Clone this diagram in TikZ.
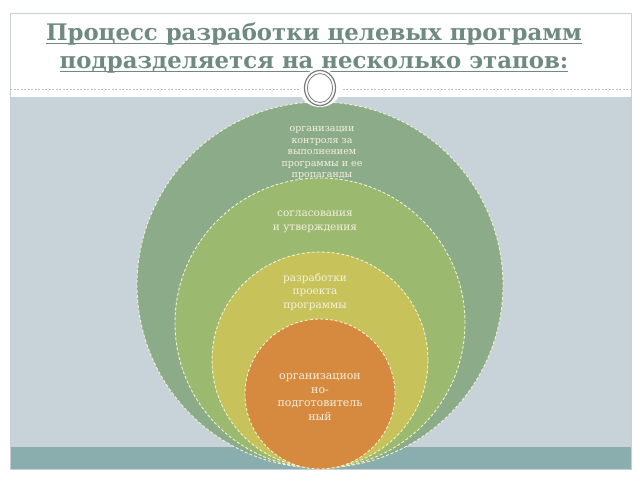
\documentclass[tikz,border=0pt]{standalone}
\usepackage{fontspec}
\setmainfont{DejaVu Serif}
\definecolor{bggray}{HTML}{C8D3D9}
\definecolor{teal}{HTML}{8AADAE}
\definecolor{framegray}{HTML}{C9CFD2}
\definecolor{titlec}{HTML}{6F8A80}
\definecolor{c1}{HTML}{8CAB88}
\definecolor{c2}{HTML}{9BBA6F}
\definecolor{c3}{HTML}{C7C35A}
\definecolor{c4}{HTML}{D58A40}
\definecolor{txt}{HTML}{F4F1DF}
\definecolor{dashc}{HTML}{F2F2D8}
\definecolor{orng}{HTML}{7A7A7A}
\tikzset{
  ring/.style={fill=#1, draw=dashc, dashed, dash pattern=on 3pt off 2pt, line width=0.9pt},
  lbl/.style={text=txt, align=center, inner sep=0pt},
  ttl/.style={text=titlec, font=\bfseries\fontsize{22.8}{29}\selectfont, inner sep=0pt, anchor=base},
  uline/.style={draw=titlec, line width=1.4pt},
}
\begin{document}
\begin{tikzpicture}[x=1pt,y=-1pt]
\useasboundingbox (0,0) rectangle (640,480);
\fill[white] (0,0) rectangle (640,480);
% frame areas
\fill[bggray] (10,97) rectangle (631,447);
\fill[teal] (10,447) rectangle (631,469);
\draw[framegray, line width=0.8pt] (10,13) rectangle (631,469);
% dashed separator
\draw[gray!50, dashed, dash pattern=on 2pt off 1.5pt, line width=0.5pt] (10,89) -- (631,89);
% title
\node[ttl] (title1) at (314,40) {Процесс разработки целевых программ};
\node[ttl] (title2) at (314,68) {подразделяется на несколько этапов:};
\draw[uline] ([yshift=-3.2pt]title1.base west) -- ([yshift=-3.2pt]title1.base east);
\draw[uline] ([yshift=-3.2pt]title2.base west) -- ([yshift=-3.2pt]title2.base east);
% circles
\begin{scope}
\clip (10,97) rectangle (631,469);
\node[circle, ring=c1, minimum size=366pt, inner sep=0pt] (o1) at (320,285) {};
\node[lbl, font=\fontsize{9.5}{11.5}\selectfont] (t1) at (322,153)
  {организации\\контроля за\\выполнением\\программы и ее\\пропаганды};
\node[circle, ring=c2, minimum size=290pt, inner sep=0pt] (o2) at (320,323) {};
\node[lbl, font=\fontsize{10.5}{13.5}\selectfont] (t2) at (315,222) {согласования\\и утверждения};
\node[circle, ring=c3, minimum size=216pt, inner sep=0pt] (o3) at (320,360) {};
\node[lbl, font=\fontsize{10.5}{13.5}\selectfont] (t3) at (315,292) {разработки\\проекта\\программы};
\node[circle, ring=c4, minimum size=150pt, inner sep=0pt] (o4) at (320,394) {};
\node[lbl, font=\fontsize{11}{13.5}\selectfont] (t4) at (320,397) {организацион\\но-\\подготовитель\\ный};
\end{scope}
% ornament
\fill[white] (320,88) ellipse (21pt and 19pt);
\draw[orng, line width=1.2pt] (320,88) ellipse (15.5pt and 17.5pt);
\draw[orng, line width=0.8pt] (320,88) ellipse (12.5pt and 14.5pt);
\node[inner sep=0pt] (orn) at (320,88) {};
\end{tikzpicture}
\end{document}
